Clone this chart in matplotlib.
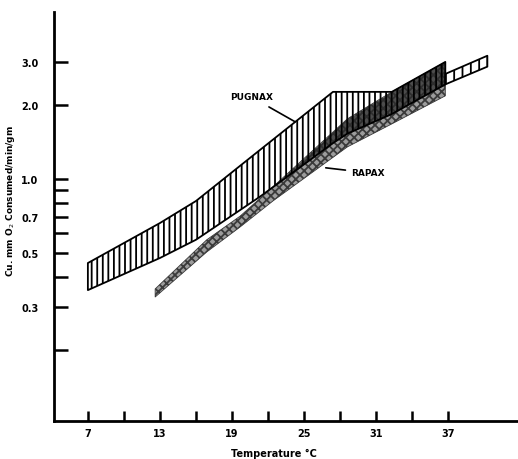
import numpy as np
import matplotlib.pyplot as plt
from matplotlib.ticker import NullLocator

# PUGNAX band (vertical hatching)
pug_temp = [7, 13, 16, 21.3, 27.4, 28.6, 32.3, 36.75]
pug_high = [0.454, 0.661, 0.813, 1.31, 2.265, 2.265, 2.265, 3.0]
pug_low = [0.352, 0.476, 0.565, 0.845, 1.40, 1.53, 1.84, 2.43]
# narrow extension beyond 37 C
pug_ext_temp = [36.75, 40.25]
pug_ext_high = [2.68, 3.18]
pug_ext_low = [2.43, 2.87]

# RAPAX band (stippled)
rap_temp = [12.6, 16.9, 19.67, 22.4, 28.6, 32.3, 36.75]
rap_high = [0.356, 0.565, 0.705, 0.928, 1.758, 2.265, 3.0]
rap_low = [0.330, 0.504, 0.637, 0.813, 1.351, 1.677, 2.182]

xtick_vals = [7, 10, 13, 16, 19, 22, 25, 28, 31, 34, 37]
xtick_labels = ['7', '', '13', '', '19', '', '25', '', '31', '', '37']
ytick_vals = [0.2, 0.3, 0.4, 0.5, 0.6, 0.7, 0.8, 0.9, 1.0, 2.0, 3.0]
ytick_labels = ['', '0.3', '', '0.5', '', '0.7', '', '', '1.0', '2.0', '3.0']

plt.rcParams['hatch.linewidth'] = 1.3
fig = plt.figure(figsize=(5.18, 4.60), dpi=100)
ax = fig.add_axes([0.104, 0.0826, 0.896, 0.8894])

# rapax stipple
ax.fill_between(rap_temp, rap_low, rap_high, facecolor='#9c9c9c', edgecolor='#3a3a3a',
                hatch='xxxx', linewidth=0.6, zorder=2)

# darker zone where the two bands overlap
t = np.linspace(rap_temp[0], rap_temp[-1], 400)
hi = np.minimum(10 ** np.interp(t, pug_temp, np.log10(pug_high)),
                10 ** np.interp(t, rap_temp, np.log10(rap_high)))
lo = np.maximum(10 ** np.interp(t, pug_temp, np.log10(pug_low)),
                10 ** np.interp(t, rap_temp, np.log10(rap_low)))
ax.fill_between(t, lo, hi, where=hi > lo, interpolate=True, color='#2a2a2a',
                alpha=0.7, linewidth=0, zorder=3)

# pugnax hatched band
ax.fill_between(pug_temp, pug_low, pug_high, facecolor='none', edgecolor='black',
                hatch='|||', linewidth=1.3, zorder=4)
ax.fill_between(pug_ext_temp, pug_ext_low, pug_ext_high, facecolor='none', edgecolor='black',
                hatch='||', linewidth=1.3, zorder=4)

ax.set_yscale('log')
ax.set_xlim(4.17, 42.8)
ax.set_ylim(0.103, 4.8)

ax.set_xticks(xtick_vals)
ax.set_xticklabels(xtick_labels)
ax.set_yticks(ytick_vals)
ax.set_yticklabels(ytick_labels)
ax.yaxis.set_minor_locator(NullLocator())

for s in ['top', 'right']:
    ax.spines[s].set_visible(False)
for s in ['left', 'bottom']:
    ax.spines[s].set_linewidth(2)

ax.tick_params(axis='y', direction='in', length=10, width=1.8, pad=11,
               labelsize=7)
ax.tick_params(axis='x', direction='in', length=7, width=1.8, pad=5,
               labelsize=7)
for lab in ax.get_xticklabels() + ax.get_yticklabels():
    lab.set_fontweight('bold')

ax.set_ylabel('Cu. mm O$_2$ Consumed/min/gm', fontsize=6.5, fontweight='bold')
ax.yaxis.set_label_coords(-0.08, 0.54)
ax.set_xlabel('Temperature °C', fontsize=7, fontweight='bold')
ax.xaxis.set_label_coords(0.474, -0.065)

ax.annotate('PUGNAX', xy=(24.25, 1.71), xytext=(20.6, 2.16), ha='center', va='center',
            fontsize=6.5, fontweight='bold',
            arrowprops=dict(arrowstyle='-', color='black', lw=1.2, shrinkA=4, shrinkB=0))
ax.annotate('RAPAX', xy=(26.8, 1.11), xytext=(28.9, 1.06), ha='left', va='center',
            fontsize=6.5, fontweight='bold',
            arrowprops=dict(arrowstyle='-', color='black', lw=1.2, shrinkA=2, shrinkB=0))

fig.savefig('out.png', dpi=100)
